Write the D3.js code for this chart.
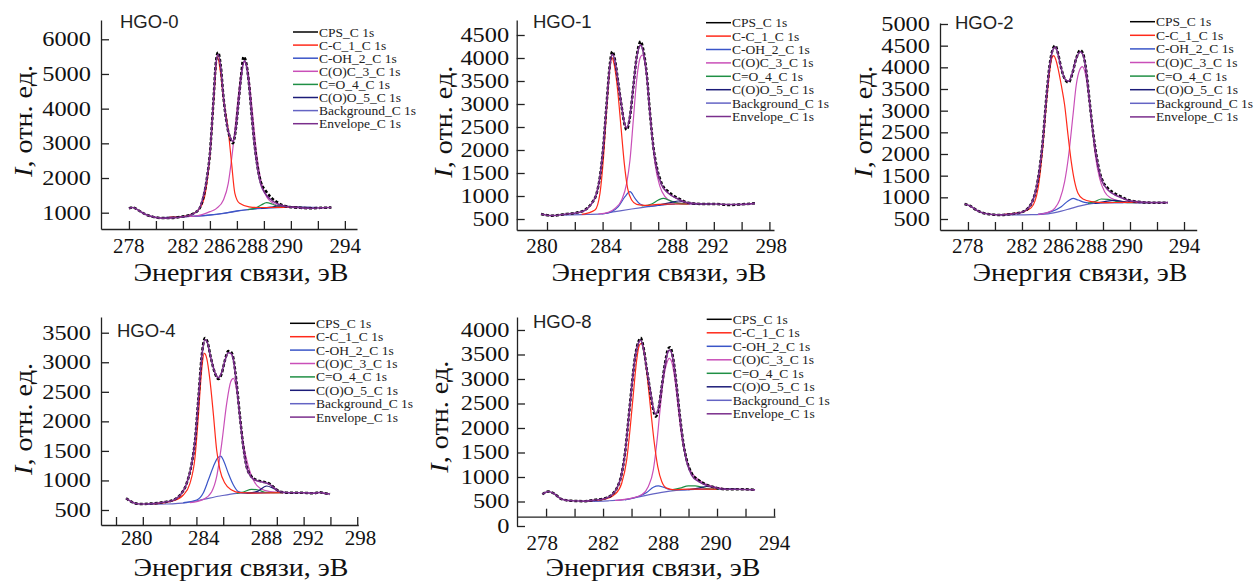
<!DOCTYPE html>
<html>
<head>
<meta charset="utf-8">
<script src="https://cdn.jsdelivr.net/npm/d3@7"></script>
<style>
body { margin:0; background:#fff; }
svg { display:block; }
svg text { font-family: "Liberation Serif", "Times New Roman", serif; }
svg text.hgo-name { font-family: "Liberation Sans", Arial, sans-serif; }
</style>
</head>
<body>
<div id="chart"></div>
<script>
// legend names and colours (same order in every panel)
var seriesNames = ["CPS_C 1s","C-C_1_C 1s","C-OH_2_C 1s","C(O)C_3_C 1s","C=O_4_C 1s","C(O)O_5_C 1s","Background_C 1s","Envelope_C 1s"];
var seriesColors = ["#000000","#ff2a1a","#3a55c8","#c94fb8","#1f8f45","#1c1c78","#6464c4","#7a2e8c"];

// ---------- HGO-0  [binding energy, intensity]
var hgo0_cps = [[278.0,1125],[278.3,1150],[278.7,1070],[279.2,955],[279.8,880],[280.5,845],[281.2,850],[281.8,880],[282.3,910],[282.8,985],[283.2,1100],[283.5,1420],[283.8,2050],[284.0,2700],[284.25,4150],[284.45,5350],[284.6,5620],[284.8,5250],[285.0,4350],[285.3,3450],[285.5,3150],[285.7,3000],[285.9,3350],[286.1,4100],[286.3,4900],[286.5,5500],[286.7,5300],[286.9,4700],[287.1,3800],[287.3,3000],[287.5,2400],[287.8,1850],[288.1,1650],[288.5,1450],[289.0,1300],[289.5,1200],[290.0,1160],[290.7,1140],[291.5,1130],[292.2,1140],[293.0,1150]];
var hgo0_env = [[278.0,1125],[278.3,1150],[278.7,1070],[279.2,955],[279.8,880],[280.5,845],[281.2,850],[281.8,875],[282.3,905],[282.8,975],[283.2,1110],[283.5,1450],[283.8,2050],[284.0,2700],[284.25,4150],[284.45,5300],[284.6,5560],[284.8,5200],[285.0,4350],[285.3,3450],[285.5,3180],[285.7,3060],[285.9,3350],[286.1,4080],[286.3,4850],[286.55,5380],[286.7,5250],[286.9,4680],[287.1,3800],[287.3,2950],[287.5,2350],[287.8,1780],[288.1,1550],[288.5,1380],[289.0,1260],[289.5,1190],[290.0,1160],[290.7,1140],[291.5,1130],[292.2,1140],[293.0,1150]];
var hgo0_cc = [[281.0,870],[282.0,890],[282.7,960],[283.2,1100],[283.6,1450],[284.0,2650],[284.3,4350],[284.55,5500],[284.8,5000],[285.0,4300],[285.35,3400],[285.6,2450],[285.85,1560],[286.2,1270],[286.9,1170],[287.6,1150],[288.5,1150],[289.5,1155],[290.5,1155]];
var hgo0_coh = [[281.0,870],[282.5,890],[284.0,935],[285.0,985],[286.0,1050],[287.0,1100],[288.0,1135],[289.0,1150],[290.5,1155]];
var hgo0_coc = [[282.0,885],[283.0,905],[284.0,1030],[284.5,1125],[285.0,1365],[285.36,1846],[285.6,2520],[285.85,3385],[286.1,4346],[286.35,5115],[286.6,5356],[286.84,5019],[287.16,3865],[287.46,2712],[287.83,1846],[288.2,1462],[288.7,1269],[289.4,1173],[290.7,1154]];
var hgo0_co = [[286.8,1090],[287.4,1140],[287.8,1220],[288.2,1290],[288.6,1250],[289.0,1185],[289.6,1160],[290.3,1155]];
var hgo0_coo = [[287.8,1130],[288.5,1160],[289.2,1200],[289.8,1185],[290.6,1160],[291.5,1155]];
var hgo0_bg = [[280.5,860],[281.5,875],[282.5,890],[283.5,910],[284.5,950],[285.5,1010],[286.5,1070],[287.5,1115],[288.5,1140],[289.5,1152],[291.0,1155],[292.0,1155]];

// ---------- HGO-1
var hgo1_cps = [[279.57,609],[280.34,572],[281.3,609],[282.25,645],[282.73,696],[283.2,840],[283.57,1058],[283.81,1420],[284.05,2072],[284.29,3014],[284.53,3884],[284.7,4140],[284.89,3956],[285.13,3449],[285.37,2942],[285.56,2580],[285.73,2440],[285.97,2725],[286.21,3377],[286.45,4029],[286.74,4360],[286.93,4174],[287.17,3666],[287.41,2797],[287.65,2072],[287.89,1638],[288.25,1275],[288.73,1094],[289.45,949],[290.17,855],[291.13,826],[292.09,826],[293.05,804],[294.0,819],[294.96,840]];
var hgo1_env = [[279.57,609],[280.34,575],[281.3,605],[282.25,640],[282.73,690],[283.2,830],[283.57,1060],[283.81,1420],[284.05,2072],[284.29,3000],[284.53,3850],[284.7,4080],[284.89,3930],[285.13,3440],[285.37,2950],[285.56,2600],[285.73,2480],[285.97,2740],[286.21,3370],[286.45,4000],[286.74,4280],[286.93,4120],[287.17,3640],[287.41,2780],[287.65,2050],[287.89,1600],[288.25,1240],[288.73,1060],[289.45,930],[290.17,850],[291.13,826],[292.09,826],[293.05,815],[294.0,819],[294.96,840]];
var hgo1_cc = [[282.5,600],[283.45,696],[283.81,1058],[284.05,1783],[284.29,2870],[284.53,3811],[284.65,4014],[284.84,3848],[285.08,3304],[285.32,2507],[285.56,1710],[285.8,1167],[286.09,913],[286.45,819],[287.05,797],[288.0,819],[289.2,826],[290.2,826]];
var hgo1_coh = [[283.93,609],[284.65,659],[285.13,768],[285.61,985],[285.97,1094],[286.33,949],[286.69,826],[287.29,775],[288.25,804],[289.2,826]];
var hgo1_coc = [[283.69,609],[284.41,645],[284.89,732],[285.37,913],[285.73,1275],[285.97,1783],[286.21,2652],[286.45,3522],[286.69,3993],[286.86,4065],[287.05,3884],[287.29,3232],[287.53,2435],[287.77,1710],[288.13,1203],[288.49,985],[288.97,877],[289.69,841],[290.65,826]];
var hgo1_co = [[286.81,783],[287.53,826],[288.01,913],[288.37,949],[288.85,899],[289.45,840],[290.17,826]];
var hgo1_coo = [[288.01,804],[288.97,862],[289.45,891],[290.05,855],[290.77,826],[291.5,826]];
var hgo1_bg = [[281.0,585],[282.5,595],[283.93,612],[284.89,659],[286.09,717],[287.29,768],[288.25,804],[289.2,826],[290.65,826],[292.0,826]];

// ---------- HGO-2
var hgo2_cps = [[277.75,846],[278.12,808],[278.74,685],[279.48,615],[280.47,592],[281.21,615],[281.95,654],[282.44,746],[282.81,938],[283.06,1207],[283.31,1669],[283.56,2361],[283.8,3284],[284.05,4053],[284.3,4437],[284.47,4500],[284.67,4322],[284.91,3976],[285.21,3707],[285.46,3650],[285.7,3822],[286.02,4207],[286.32,4399],[286.52,4322],[286.77,3899],[287.01,3207],[287.26,2515],[287.51,1976],[287.75,1592],[288.0,1361],[288.37,1207],[288.86,1092],[289.36,1015],[289.85,938],[290.59,900],[291.58,877],[292.81,877]];
var hgo2_env = [[277.75,846],[278.12,808],[278.74,685],[279.48,615],[280.47,595],[281.21,612],[281.95,650],[282.44,740],[282.81,930],[283.06,1200],[283.31,1660],[283.56,2350],[283.8,3270],[284.05,4030],[284.3,4410],[284.47,4470],[284.67,4300],[284.91,3970],[285.21,3720],[285.46,3680],[285.7,3840],[286.02,4200],[286.32,4360],[286.52,4290],[286.77,3880],[287.01,3190],[287.26,2500],[287.51,1950],[287.75,1560],[288.0,1330],[288.37,1170],[288.86,1060],[289.36,990],[289.85,930],[290.59,895],[291.58,877],[292.81,877]];
var hgo2_cc = [[280.72,608],[281.95,654],[282.69,761],[283.19,1207],[283.56,2207],[283.8,3130],[284.05,3899],[284.2,4200],[284.35,4270],[284.5,4180],[284.67,3976],[284.91,3592],[285.16,3130],[285.41,2438],[285.65,1823],[285.9,1361],[286.15,1092],[286.52,961],[287.14,900],[288.12,877],[289.6,885],[290.6,880]];
var hgo2_coh = [[283.19,608],[284.17,669],[284.91,785],[285.41,915],[285.78,977],[286.15,938],[286.64,885],[287.38,861],[288.5,877],[289.5,880]];
var hgo2_coc = [[283.19,608],[283.93,654],[284.42,746],[284.79,938],[285.16,1361],[285.46,1976],[285.78,2899],[286.02,3592],[286.27,3938],[286.47,4014],[286.69,3861],[286.94,3361],[287.19,2669],[287.43,1976],[287.75,1438],[288.12,1131],[288.62,977],[289.23,915],[290.1,885],[291.0,877]];
var hgo2_co = [[286.89,861],[287.38,900],[287.88,961],[288.37,954],[289.11,900],[289.8,880],[290.5,877]];
var hgo2_coo = [[287.38,861],[288.12,900],[288.86,931],[289.6,900],[290.59,877],[291.3,877]];
var hgo2_bg = [[280.47,592],[282.69,600],[283.93,620],[284.91,680],[285.65,746],[286.4,808],[287.14,854],[288.12,877],[289.5,880],[291.5,877]];

// ---------- HGO-4
var hgo4_cps = [[278.75,697],[279.29,624],[279.79,601],[280.79,613],[281.78,641],[282.28,669],[282.78,754],[283.27,951],[283.65,1289],[283.9,1684],[284.14,2360],[284.39,3093],[284.64,3410],[284.82,3347],[285.06,3093],[285.39,2811],[285.64,2715],[285.89,2811],[286.13,3037],[286.38,3190],[286.58,3178],[286.76,3065],[287.0,2642],[287.25,2078],[287.5,1571],[287.75,1233],[288.12,1064],[288.5,1007],[289.0,979],[289.49,940],[289.87,866],[290.24,810],[290.99,793],[291.73,793],[292.73,782],[293.22,800],[293.5,785],[293.97,770]];
var hgo4_env = [[278.75,697],[279.29,624],[279.79,601],[280.79,610],[281.78,638],[282.28,665],[282.78,750],[283.27,945],[283.65,1280],[283.9,1680],[284.14,2350],[284.39,3070],[284.64,3380],[284.82,3330],[285.06,3090],[285.39,2820],[285.64,2740],[285.89,2830],[286.13,3030],[286.38,3160],[286.58,3150],[286.76,3040],[287.0,2620],[287.25,2060],[287.5,1560],[287.75,1220],[288.12,1050],[288.5,995],[289.0,970],[289.49,930],[289.87,860],[290.24,808],[290.99,793],[291.73,793],[292.73,785],[293.22,795],[293.5,785],[293.97,770]];
var hgo4_cc = [[280.79,601],[282.28,658],[283.02,754],[283.52,951],[283.9,1402],[284.14,2078],[284.39,2867],[284.59,3149],[284.77,3065],[285.01,2698],[285.26,2135],[285.51,1515],[285.76,1176],[286.13,951],[286.63,838],[287.25,793],[288.25,785],[289.5,790],[290.5,793]];
var hgo4_coh = [[283.02,624],[284.02,669],[284.52,793],[284.89,1007],[285.26,1233],[285.56,1374],[285.81,1413],[286.06,1317],[286.38,1120],[286.76,923],[287.13,810],[287.75,780],[288.75,790],[289.5,793]];
var hgo4_coc = [[283.52,624],[284.52,680],[285.14,810],[285.51,1064],[285.89,1627],[286.26,2304],[286.56,2670],[286.76,2727],[287.0,2529],[287.25,2078],[287.5,1627],[287.88,1233],[288.25,1007],[288.75,866],[289.49,810],[290.49,793]];
var hgo4_co = [[287.0,782],[287.5,804],[288.12,849],[288.62,838],[289.12,800],[289.74,793],[290.3,793]];
var hgo4_coo = [[287.75,785],[288.5,810],[289.24,906],[289.74,866],[290.36,800],[290.99,793],[291.5,793]];
var hgo4_bg = [[280.3,596],[281.78,601],[283.27,624],[284.52,680],[285.76,737],[287.0,782],[288.0,793],[289.24,793],[290.74,793],[291.8,793]];

// ---------- HGO-8
var hgo8_cps = [[277.74,649],[278.16,704],[278.51,670],[279.1,548],[279.8,514],[280.74,507],[281.44,534],[282.14,568],[282.61,636],[282.96,772],[283.26,1009],[283.54,1485],[283.78,2164],[284.01,2843],[284.25,3454],[284.48,3759],[284.64,3840],[284.83,3657],[285.06,3216],[285.3,2775],[285.53,2367],[285.7,2231],[285.88,2367],[286.12,2843],[286.35,3318],[286.58,3623],[286.7,3650],[286.94,3386],[287.17,2843],[287.4,2231],[287.64,1688],[287.87,1349],[288.22,1077],[288.69,941],[289.27,840],[289.86,785],[290.56,751],[291.5,751],[292.67,738]];
var hgo8_env = [[277.74,649],[278.16,704],[278.51,670],[279.1,548],[279.8,514],[280.74,507],[281.44,530],[282.14,562],[282.61,630],[282.96,765],[283.26,1000],[283.54,1470],[283.78,2150],[284.01,2830],[284.25,3430],[284.48,3730],[284.64,3790],[284.83,3630],[285.06,3210],[285.3,2790],[285.53,2400],[285.7,2280],[285.88,2390],[286.12,2840],[286.35,3290],[286.58,3570],[286.7,3590],[286.94,3360],[287.17,2830],[287.4,2220],[287.64,1670],[287.87,1320],[288.22,1040],[288.69,910],[289.27,830],[289.86,785],[290.56,751],[291.5,751],[292.67,738]];
var hgo8_cc = [[280.97,514],[282.14,548],[282.84,649],[283.31,873],[283.66,1349],[283.89,1960],[284.13,2707],[284.36,3386],[284.55,3691],[284.71,3725],[284.9,3522],[285.13,2978],[285.37,2299],[285.6,1688],[285.84,1213],[286.12,907],[286.47,772],[287.05,740],[287.99,751],[288.92,751],[290.0,751]];
var hgo8_coh = [[283.54,534],[284.48,602],[285.06,683],[285.53,792],[285.88,819],[286.23,792],[286.7,745],[287.52,738],[288.46,748],[289.5,751]];
var hgo8_coc = [[282.84,520],[284.01,568],[284.71,636],[285.18,806],[285.53,1145],[285.77,1688],[286.0,2367],[286.23,2978],[286.47,3318],[286.65,3420],[286.82,3352],[287.05,2978],[287.29,2367],[287.52,1824],[287.8,1417],[288.11,1145],[288.57,975],[289.16,860],[289.86,792],[290.8,751]];
var hgo8_co = [[286.82,738],[287.4,772],[287.99,819],[288.46,819],[288.92,792],[289.51,751],[290.1,751]];
var hgo8_coo = [[287.99,740],[288.69,772],[289.27,806],[289.86,785],[290.56,751],[291.3,751]];
var hgo8_bg = [[280.5,500],[282.37,514],[283.78,548],[285.18,636],[286.35,697],[287.52,738],[288.69,751],[290.0,751],[291.5,751]];

// ---------- axis ticks / labels
var hgo0_yTicks = [1000,2000,3000,4000,5000,6000];
var hgo1_yTicks = [500,1000,1500,2000,2500,3000,3500,4000,4500];
var hgo2_yTicks = [500,1000,1500,2000,2500,3000,3500,4000,4500,5000];
var hgo4_yTicks = [500,1000,1500,2000,2500,3000,3500];
var hgo8_yTicks = [0,500,1000,1500,2000,2500,3000,3500,4000];

var hgo0_xTicks = d3.range(278, 295, 2);
var hgo1_xTicks = d3.range(280, 297, 2);
var hgo2_xTicks = d3.range(278, 295, 2);
var hgo4_xTicks = d3.range(278, 297, 2);
var hgo8_xTicks = d3.range(278, 295, 2);

// the printed labels do not sit on the ticks in the original figure
var hgo0_xLabels = ["278","282","286","288","290","294"];
var hgo0_xLabelAt = [277.95, 281.96, 284.67, 287.12, 289.7, 294];
var hgo1_xLabels = ["280","284","288","292","298"];
var hgo1_xLabelAt = [279.6, 284.2, 289.0, 291.9, 296.1];
var hgo2_xLabels = ["278","282","286","288","290","294"];
var hgo2_xLabelAt = [277.95, 281.96, 284.67, 287.12, 289.75, 294];
var hgo4_xLabels = ["280","284","288","292","298"];
var hgo4_xLabelAt = [279.5, 284.5, 289.2, 292.3, 296.2];
var hgo8_xLabels = ["278","282","288","290","294"];
var hgo8_xLabelAt = [277.7, 282, 286.2, 289.9, 294];

// panel layout (pixels)
var panels = [
  {name:"HGO-0", series:[hgo0_cps,hgo0_cc,hgo0_coh,hgo0_coc,hgo0_co,hgo0_coo,hgo0_bg,hgo0_env],
   xd:[275.93,294.9], xr:[101,357], yd:[530,6556], yr:[229,20], xAxisAt:530,
   yTicks:hgo0_yTicks, xTicks:hgo0_xTicks, xLabels:hgo0_xLabels, xLabelAt:hgo0_xLabelAt,
   yPad:10, xPad:10, title:[120,28], yTitle:[31.5,121], xTitle:[241,281], legend:[293,32,13.1]},
  {name:"HGO-1", series:[hgo1_cps,hgo1_cc,hgo1_coh,hgo1_coc,hgo1_co,hgo1_coo,hgo1_bg,hgo1_env],
   xd:[277.82,296.33], xr:[516.7,774], yd:[261,4826], yr:[230,20], xAxisAt:261,
   yTicks:hgo1_yTicks, xTicks:hgo1_xTicks, xLabels:hgo1_xLabels, xLabelAt:hgo1_xLabelAt,
   yPad:7.5, xPad:9, title:[533,28], yTitle:[451.5,121.7], xTitle:[659,281], legend:[706,22.7,13.4]},
  {name:"HGO-2", series:[hgo2_cps,hgo2_cc,hgo2_coh,hgo2_coc,hgo2_co,hgo2_coo,hgo2_bg,hgo2_env],
   xd:[275.93,294.94], xr:[940,1196.7], yd:[246,5023], yr:[230,23], xAxisAt:246,
   yTicks:hgo2_yTicks, xTicks:hgo2_xTicks, xLabels:hgo2_xLabels, xLabelAt:hgo2_xLabelAt,
   yPad:10, xPad:9, title:[955,29], yTitle:[871.7,121.7], xTitle:[1080,281], legend:[1130,21.7,13.6]},
  {name:"HGO-4", series:[hgo4_cps,hgo4_cc,hgo4_coh,hgo4_coc,hgo4_co,hgo4_coo,hgo4_bg,hgo4_env],
   xd:[276.88,296.08], xr:[101,358.3], yd:[246,3766], yr:[525,317], xAxisAt:246,
   yTicks:hgo4_yTicks, xTicks:hgo4_xTicks, xLabels:hgo4_xLabels, xLabelAt:hgo4_xLabelAt,
   yPad:10, xPad:6, title:[117,337], yTitle:[31.7,419], xTitle:[241,576], legend:[290,323.3,13.4]},
  {name:"HGO-8", series:[hgo8_cps,hgo8_cc,hgo8_coh,hgo8_coc,hgo8_co,hgo8_coo,hgo8_bg,hgo8_env],
   xd:[275.96,294.07], xr:[517,775], yd:[0,4265], yr:[526,317], xAxisAt:190,
   yTicks:hgo8_yTicks, xTicks:hgo8_xTicks, xLabels:hgo8_xLabels, xLabelAt:hgo8_xLabelAt,
   yPad:7.5, xPad:19, title:[533,328], yTitle:[448.3,416.7], xTitle:[653,576], legend:[706.7,319.3,13.5]}
];

var svg = d3.select("#chart").append("svg")
    .attr("width", 1256)
    .attr("height", 581)
    .style("background", "#fff");

// draw order: background, components, measured, envelope
var drawOrder = [6,2,3,4,5,1,0,7];

panels.forEach(function(p) {
    var x = d3.scaleLinear().domain(p.xd).range(p.xr);
    var y = d3.scaleLinear().domain(p.yd).range(p.yr);
    var g = svg.append("g").attr("class", "panel");

    var line = d3.line()
        .x(function(d) { return x(d[0]); })
        .y(function(d) { return y(d[1]); })
        .curve(d3.curveMonotoneX);

    drawOrder.forEach(function(k) {
        var path = g.append("path")
            .datum(p.series[k])
            .attr("d", line)
            .attr("fill", "none")
            .attr("stroke", seriesColors[k])
            .attr("stroke-linejoin", "round");
        if (k === 0) {
            path.attr("stroke-width", 2.5).attr("stroke-dasharray", "3,2");
        } else if (k === 7) {
            path.attr("stroke-width", 1.6);
        } else {
            path.attr("stroke-width", 1.2);
        }
    });

    // y axis (ticks inside)
    var yAxisG = g.append("g")
        .attr("transform", "translate(" + p.xr[0] + ",0)")
        .call(d3.axisLeft(y).tickValues(p.yTicks).tickSize(-8).tickSizeOuter(0)
            .tickPadding(p.yPad).tickFormat(d3.format("d")));
    yAxisG.attr("font-family", null);
    yAxisG.selectAll("text")
        .style("font-size", "20px")
        .attr("fill", "#111")
        .attr("textLength", function(d) { return String(d).length * 12.2; })
        .attr("lengthAdjust", "spacingAndGlyphs");

    // x axis ticks
    var xy = y(p.xAxisAt);
    g.append("g")
        .attr("transform", "translate(0," + xy + ")")
        .call(d3.axisBottom(x).tickValues(p.xTicks).tickSize(-8).tickSizeOuter(0).tickFormat(""));

    // x axis labels
    var xLab = g.append("g")
        .attr("transform", "translate(0," + xy + ")")
        .call(d3.axisBottom(x).tickValues(p.xLabelAt).tickSize(0).tickPadding(p.xPad)
            .tickFormat(function(d, i) { return p.xLabels[i]; }));
    xLab.attr("font-family", null);
    xLab.select(".domain").remove();
    xLab.selectAll("text")
        .style("font-size", "20px")
        .attr("fill", "#111")
        .attr("textLength", function(d, i) { return p.xLabels[i].length * 10.5; })
        .attr("lengthAdjust", "spacingAndGlyphs");

    g.selectAll(".domain, .tick line")
        .attr("stroke", "#222")
        .attr("stroke-width", 1.3);

    // panel name
    g.append("text")
        .attr("class", "hgo-name")
        .attr("x", p.title[0])
        .attr("y", p.title[1])
        .style("font-size", "18.5px")
        .attr("fill", "#222")
        .text(p.name);

    // y title
    var yt = g.append("text")
        .attr("transform", "translate(" + p.yTitle[0] + "," + p.yTitle[1] + ") rotate(-90)")
        .attr("text-anchor", "middle")
        .style("font-size", "26px")
        .attr("fill", "#111")
        .attr("textLength", 112)
        .attr("lengthAdjust", "spacingAndGlyphs");
    yt.append("tspan").style("font-style", "italic").text("I");
    yt.append("tspan").text(", отн. ед.");

    // x title
    g.append("text")
        .attr("x", p.xTitle[0])
        .attr("y", p.xTitle[1])
        .attr("text-anchor", "middle")
        .style("font-size", "26px")
        .attr("fill", "#111")
        .attr("textLength", 215)
        .attr("lengthAdjust", "spacingAndGlyphs")
        .text("Энергия связи, эВ");

    // legend
    var leg = g.append("g").attr("transform", "translate(" + p.legend[0] + "," + p.legend[1] + ")");
    seriesNames.forEach(function(name, i) {
        var row = leg.append("g").attr("transform", "translate(0," + (i * p.legend[2]) + ")");
        row.append("line")
            .attr("x1", 0).attr("x2", 25)
            .attr("y1", 0).attr("y2", 0)
            .attr("stroke", seriesColors[i])
            .attr("stroke-width", 1.5);
        row.append("text")
            .attr("x", 26)
            .attr("y", 4.5)
            .style("font-size", "13.5px")
            .attr("fill", "#222")
            .text(name);
    });
});
</script>
</body>
</html>
